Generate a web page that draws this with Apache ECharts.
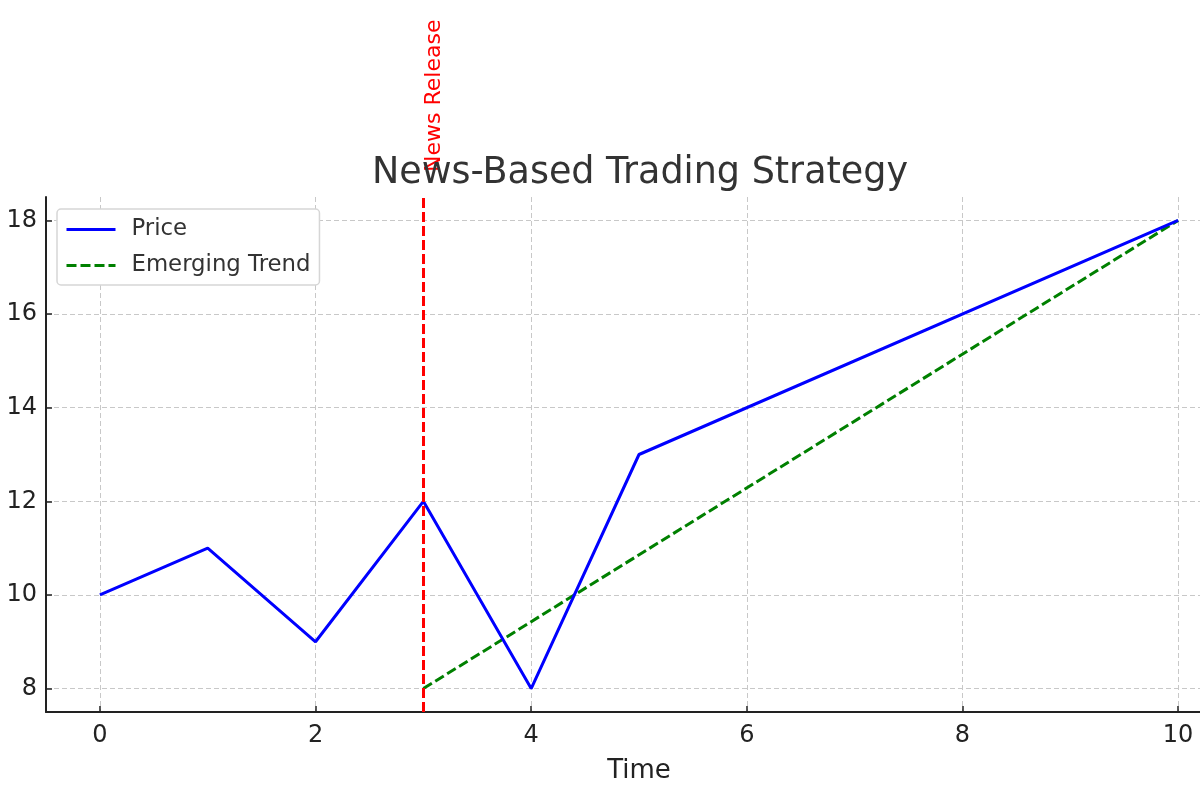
<!DOCTYPE html>
<html>
<head>
<meta charset="utf-8">
<script src="https://cdn.jsdelivr.net/npm/echarts@6/dist/echarts.min.js"></script>
<style>
    html, body { margin: 0; padding: 0; background: #fff; }
    .chart { width: 1200px; height: 800px; }
</style>
</head>
<body>
<div class="chart"></div>
<script>
var timePoints = [0, 1, 2, 3, 4, 5, 10];
var priceValues = [10, 11, 9, 12, 8, 13, 18];
var trendTimes = [3, 10];
var trendValues = [8, 18];
var newsTime = 3;
var xTicks = [0, 2, 4, 6, 8, 10];
var yTicks = [8, 10, 12, 14, 16, 18];

(function () {
    var myChart = echarts.init(document.querySelector('.chart'));
    var font = 'DejaVu Sans';
    var yMin = 7.5, yMax = 18.5;

    function pairs(xs, ys) {
        var out = [];
        for (var i = 0; i < xs.length; i++) {
            out.push([xs[i], ys[i]]);
        }
        return out;
    }

    var option = {
        animation: false,
        title: {
            text: 'News-Based Trading Strategy',
            left: 635,
            top: 150,
            textAlign: 'center',
            textStyle: {
                fontFamily: font,
                fontSize: 36.5,
                fontWeight: 'normal',
                color: '#333'
            }
        },
        legend: {
            orient: 'vertical',
            left: 57,
            top: 209,
            data: ['Price', 'Emerging Trend'],
            itemWidth: 49,
            itemHeight: 14,
            itemGap: 13,
            padding: [9, 9, 8, 8],
            backgroundColor: '#fff',
            borderColor: '#d6d6d6',
            borderWidth: 1.5,
            borderRadius: 4,
            itemStyle: { color: 'transparent', borderWidth: 0 },
            lineStyle: { width: 3 },
            textStyle: {
                fontFamily: font,
                fontSize: 22.8,
                color: '#333',
                padding: [0, 0, 0, 11]
            }
        },
        grid: {
            left: 46,
            top: 197,
            width: 1186,
            bottom: 88,
            outerBoundsMode: 'none'
        },
        xAxis: {
            type: 'value',
            min: -0.5,
            max: 10.5,
            name: 'Time',
            nameLocation: 'middle',
            nameGap: 46,
            nameTextStyle: {
                fontFamily: font,
                fontSize: 26,
                color: '#222'
            },
            axisLine: {
                onZero: false,
                lineStyle: { color: '#222', width: 2 }
            },
            axisTick: {
                inside: true,
                length: 6,
                customValues: xTicks,
                lineStyle: { color: '#222', width: 1.5 }
            },
            axisLabel: {
                customValues: xTicks,
                margin: 12,
                fontFamily: font,
                fontSize: 24,
                color: '#222'
            },
            splitLine: {
                show: true,
                lineStyle: { color: '#c8c8c8', type: [5, 3], width: 1 }
            }
        },
        yAxis: {
            type: 'value',
            min: yMin,
            max: yMax,
            axisLine: {
                show: true,
                onZero: false,
                lineStyle: { color: '#222', width: 2 }
            },
            axisTick: {
                show: true,
                inside: true,
                length: 6,
                customValues: yTicks,
                lineStyle: { color: '#222', width: 1.5 }
            },
            axisLabel: {
                customValues: yTicks,
                margin: 9,
                fontFamily: font,
                fontSize: 24,
                color: '#222'
            },
            splitLine: {
                show: true,
                lineStyle: { color: '#c8c8c8', type: [5, 3], width: 1 }
            }
        },
        series: [
            {
                name: 'Price',
                type: 'line',
                data: pairs(timePoints, priceValues),
                symbol: 'none',
                color: '#0000ff',
                lineStyle: { color: '#0000ff', width: 3 },
                z: 3
            },
            {
                name: 'Emerging Trend',
                type: 'line',
                data: pairs(trendTimes, trendValues),
                symbol: 'none',
                color: '#008000',
                lineStyle: { color: '#008000', width: 3, type: [10, 4] },
                z: 2
            },
            {
                name: 'News Release',
                type: 'line',
                data: [],
                markLine: {
                    silent: true,
                    symbol: ['none', 'none'],
                    label: { show: false },
                    lineStyle: { color: '#ff0000', width: 3, type: [10, 4] },
                    data: [{ xAxis: newsTime }]
                },
                markPoint: {
                    silent: true,
                    symbol: 'circle',
                    symbolSize: 1,
                    itemStyle: { color: 'transparent' },
                    data: [{ coord: [newsTime, yMax - 0.01] }],
                    label: {
                        show: true,
                        position: 'top',
                        distance: 24,
                        offset: [1, 0],
                        formatter: 'News Release',
                        rotate: 90,
                        align: 'left',
                        verticalAlign: 'top',
                        fontFamily: font,
                        fontSize: 22,
                        color: '#ff0000'
                    }
                },
                z: 4
            }
        ]
    };
    myChart.setOption(option);
    window.addEventListener('resize', function () {
        myChart.resize();
    });
})();
</script>
</body>
</html>
